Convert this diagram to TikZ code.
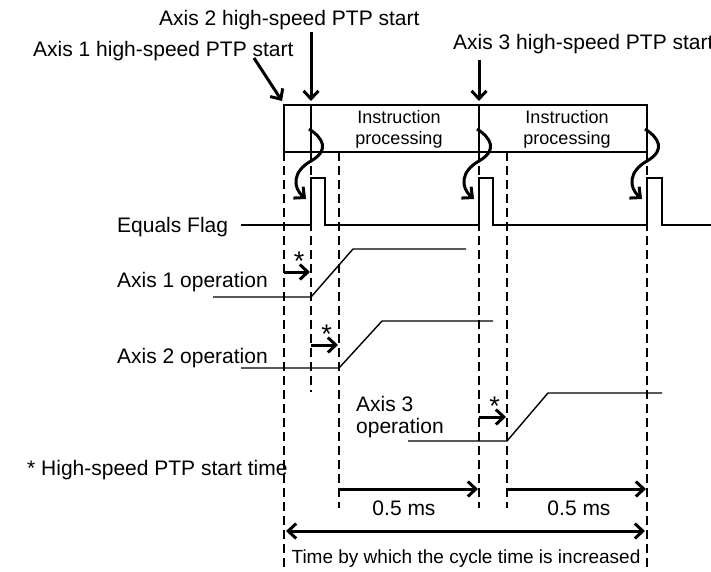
\documentclass[tikz,border=0pt]{standalone}
\usepackage{fontspec}
\setmainfont{Liberation Sans}
\usetikzlibrary{arrows.meta, positioning, calc}

\begin{document}
\begin{tikzpicture}[x=1pt, y=-1pt,
    >={Straight Barb[length=8pt, width=15pt]},
    lbl/.style={font=\fontsize{21}{22}\selectfont, inner sep=0pt, anchor=base west},
    boxtext/.style={font=\fontsize{18}{21}\selectfont, inner sep=0pt, align=center},
    sig/.style={line width=1.4pt},
    guide/.style={line width=2pt, dash pattern=on 9pt off 5pt},
    fat/.style={line width=3pt, ->},
    curly/.style={line width=3pt, ->}]
    \useasboundingbox (0,0) rectangle (711,571);

    % Time marks (bottom of the processing box)
    \coordinate (t0) at (284,152);
    \coordinate (t1) at (311,152);
    \coordinate (t2) at (339,152);
    \coordinate (t3) at (479,152);
    \coordinate (t4) at (507,152);
    \coordinate (t5) at (647,152);

    % Processing box
    \draw[sig] (284,105) rectangle (t5);
    \draw[sig] (311,105) -- (t1);
    \draw[sig] (479,105) -- (t3);
    \node (procA) [boxtext] at (399,129) {Instruction\\processing};
    \node (procB) [boxtext] at (567,129) {Instruction\\processing};

    % Dashed guides
    \draw[guide] (t0) -- (284,570);
    \draw[guide] (t1) -- (311,392);
    \draw[guide] (t2) -- (339,508);
    \draw[guide] (t3) -- (479,508);
    \draw[guide] (t4) -- (507,508);
    \draw[guide] (t5) -- (647,570);

    % Start commands
    \node (ax1start) [lbl] at (33,56) {Axis 1 high-speed PTP start};
    \node (ax2start) [lbl] at (159,25) {Axis 2 high-speed PTP start};
    \node (ax3start) [lbl] at (453,49) {Axis 3 high-speed PTP start};
    \coordinate (a1tail) at (254,58);
    \coordinate (a1head) at (282,101);
    \coordinate (a2tail) at (311,32);
    \coordinate (a2head) at (311,101);
    \coordinate (a3tail) at (479,60);
    \coordinate (a3head) at (479,101);
    \draw[fat] (a1tail) -- (a1head);
    \draw[fat] (a2tail) -- (a2head);
    \draw[fat] (a3tail) -- (a3head);

    % Equals Flag
    \node (eqflag) [lbl] at (117,232) {Equals Flag};
    \draw[sig] (241,225) -- (311,225) -- (311,178) -- (325,178) -- (325,225)
        -- (479,225) -- (479,178) -- (493,178) -- (493,225)
        -- (647,225) -- (647,178) -- (662,178) -- (662,225) -- (715,225);
    \foreach \x in {311,479,647}
        \draw[curly] (\x-2,129) .. controls (\x+12,138) and (\x+19,150) .. (\x,161)
            .. controls (\x-18,171) and (\x-19,187) .. (\x-5,199);

    % Axis operations
    \node (ax1op) [lbl] at (117,287) {Axis 1 operation};
    \draw[sig] (213,297) -- (311,297) -- (353,249) -- (466,249);
    \node (ax2op) [lbl] at (117,363) {Axis 2 operation};
    \draw[sig] (241,368) -- (339,368) -- (382,321) -- (493,321);
    \node (ax3op) [lbl, align=left] at (356,433) {Axis 3\\operation};
    \draw[sig] (408,441) -- (507,441) -- (548,393) -- (662,393);

    % Start times
    \foreach \a/\b/\y in {284/310/272, 311/338/345, 479/506/417} {
        \draw[fat] (\a,\y) -- (\b,\y);
        \node (star\y) [lbl, font=\fontsize{27}{28}\selectfont, anchor=base]
            at ({(\a+\b)/2+2},\y-2) {*};
    }
    \node (note) [lbl] at (27,475) {* High-speed PTP start time};

    % Durations
    \draw[fat] (339,489) -- (478,489);
    \draw[fat] (507,489) -- (646,489);
    \node (msA) [lbl, anchor=base] at (404,515) {0.5 ms};
    \node (msB) [lbl, anchor=base] at (579,515) {0.5 ms};
    \draw[fat, <->] (286,531) -- (645,531);
    \node (cycle) [lbl, font=\fontsize{19}{20}\selectfont, anchor=base] at (466,563)
        {Time by which the cycle time is increased};
\end{tikzpicture}
\end{document}
